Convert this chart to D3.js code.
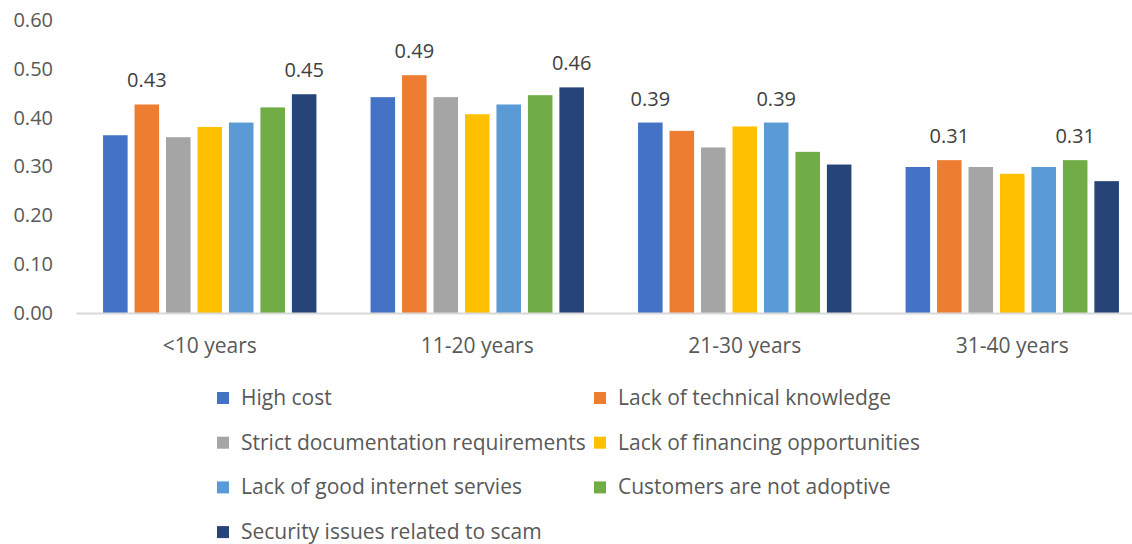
<!DOCTYPE html>
<html>
<head>
<meta charset="utf-8">
<script src="https://cdn.jsdelivr.net/npm/d3@7"></script>
<style>
  body { margin: 0; background: #fff; }
  text { font-family: "Open Sans", sans-serif; }
</style>
</head>
<body>
<div id="chart"></div>
<script>
var categories = ['<10 years', '11-20 years', '21-30 years', '31-40 years'];
var series = [
	'High cost',
	'Lack of technical knowledge',
	'Strict documentation requirements',
	'Lack of financing opportunities',
	'Lack of good internet servies',
	'Customers are not adoptive',
	'Security issues related to scam'
];
// one array per series, values for the 4 age groups
var high_cost      = [0.364, 0.442, 0.390, 0.299];
var tech_knowledge = [0.427, 0.487, 0.373, 0.313];
var documentation  = [0.360, 0.442, 0.339, 0.299];
var financing      = [0.381, 0.407, 0.382, 0.285];
var internet       = [0.390, 0.427, 0.390, 0.299];
var not_adoptive   = [0.421, 0.446, 0.330, 0.313];
var security       = [0.448, 0.462, 0.304, 0.270];
var values = [high_cost, tech_knowledge, documentation, financing, internet, not_adoptive, security];
// which series carry a data label in each group
var labelled = [[1, 6], [1, 6], [0, 4], [1, 5]];
var y_ticks = [0, 0.1, 0.2, 0.3, 0.4, 0.5, 0.6];

var colors = ['#4472C4', '#ED7D31', '#A5A5A5', '#FFC000', '#5B9BD5', '#70AD47', '#264478'];

var width = 1132;
var height = 544;

var svg = d3.select('#chart')
	.append('svg')
	.attr('width', width)
	.attr('height', height);

// Scales
var x0 = d3.scaleBand()
	.domain(categories)
	.range([76, 1146]);
var x1 = d3.scaleBand()
	.domain(d3.range(series.length))
	.range([0, x0.bandwidth()])
	.paddingInner(0.22)
	.paddingOuter(0.86);
var y = d3.scaleLinear()
	.domain([0, 0.6])
	.range([313, 20]);

// Y axis labels (no line, no ticks)
var y_axis = d3.axisLeft(y)
	.tickValues(y_ticks)
	.tickFormat(d3.format('.2f'))
	.tickSize(0)
	.tickPadding(0);
var gy = svg.append('g')
	.attr('transform', 'translate(53,0)')
	.call(y_axis);
gy.select('.domain').remove();
gy.selectAll('text')
	.attr('fill', '#595959')
	.style('font-size', '20px')
	.style('font-family', '"Open Sans", sans-serif');

// Bars
var groups = svg.append('g').selectAll('g')
	.data(categories)
	.enter()
	.append('g')
	.attr('transform', function(d){
		return 'translate(' + x0(d) + ',0)';
	});

groups.selectAll('rect')
	.data(function(d, i){
		return series.map(function(s, j){
			return {s: j, v: values[j][i], g: i};
		});
	})
	.enter()
	.append('rect')
	.attr('x', function(d){ return x1(d.s); })
	.attr('width', x1.bandwidth())
	.attr('y', function(d){ return y(d.v); })
	.attr('height', function(d){ return y(0) - y(d.v); })
	.attr('fill', function(d){ return colors[d.s]; });

// Data labels
groups.selectAll('text.lbl')
	.data(function(d, i){
		return labelled[i].map(function(j){
			return {s: j, v: values[j][i]};
		});
	})
	.enter()
	.append('text')
	.attr('class', 'lbl')
	.attr('x', function(d){ return x1(d.s) + x1.bandwidth() / 2; })
	.attr('y', function(d){ return y(d.v) - 17; })
	.attr('text-anchor', 'middle')
	.attr('fill', '#404040')
	.style('font-size', '20px')
	.text(function(d){ return d3.format('.2f')(d.v); });

// X axis
var x_axis = d3.axisBottom(x0).tickSize(0).tickPadding(0);
var gx = svg.append('g')
	.attr('transform', 'translate(0,313)')
	.call(x_axis);
gx.select('.domain')
	.attr('stroke', '#d9d9d9')
	.attr('stroke-width', 2);
gx.selectAll('text')
	.attr('dy', 0)
	.attr('y', 40)
	.attr('fill', '#595959')
	.style('font-size', '21px')
	.style('font-family', '"Open Sans", sans-serif');

// Legend
var legend = svg.append('g').selectAll('g')
	.data(series)
	.enter()
	.append('g')
	.attr('transform', function(d, i){
		var col = i % 2, row = Math.floor(i / 2);
		return 'translate(' + (col ? 594 : 217) + ',' + (398 + row * 44.7) + ')';
	});
legend.append('rect')
	.attr('x', 0)
	.attr('y', -6)
	.attr('width', 12)
	.attr('height', 12)
	.attr('fill', function(d, i){ return colors[i]; });
legend.append('text')
	.attr('x', 24)
	.attr('y', 7)
	.attr('fill', '#595959')
	.style('font-size', '21px')
	.text(function(d){ return d; });
</script>
</body>
</html>
